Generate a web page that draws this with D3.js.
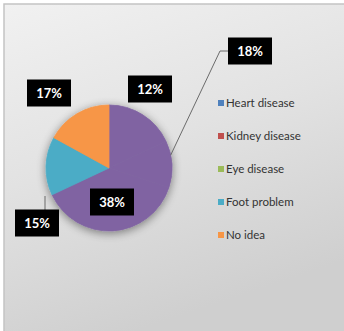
<!DOCTYPE html>
<html>
<head>
<meta charset="utf-8">
<script src="https://cdn.jsdelivr.net/npm/d3@7/dist/d3.min.js"></script>
<style>
  html, body { margin: 0; padding: 0; background: #ffffff; }
  svg { display: block; }
</style>
</head>
<body>
<svg id="chart" width="344" height="331"></svg>
<script>
// Survey answers: which complication of diabetes do you know about?
const categories = ["Heart disease", "Kidney disease", "Eye disease", "Foot problem", "No idea"];
const shares = [18, 12, 38, 15, 17];
const legendColors = ["#4F81BD", "#C0504D", "#9BBB59", "#4BACC6", "#F79646"];
const sliceColors = ["#8064A2", "#8064A2", "#8064A2", "#4BACC6", "#F79646"];
const valueLabels = ["18%", "12%", "38%", "15%", "17%"];

const svg = d3.select("#chart");
const W = 344, H = 331;

const defs = svg.append("defs");
const bg = defs.append("linearGradient").attr("id", "bg")
  .attr("x1", "0").attr("y1", "0").attr("x2", "0.35").attr("y2", "1");
bg.append("stop").attr("offset", "0").attr("stop-color", "#f1f1f1");
bg.append("stop").attr("offset", "0.5").attr("stop-color", "#e2e2e2");
bg.append("stop").attr("offset", "1").attr("stop-color", "#cfcfcf");

const shadow = defs.append("filter").attr("id", "shadow")
  .attr("x", "-30%").attr("y", "-30%").attr("width", "160%").attr("height", "160%");
shadow.append("feGaussianBlur").attr("in", "SourceAlpha").attr("stdDeviation", 5).attr("result", "b");
shadow.append("feOffset").attr("in", "b").attr("dx", 0).attr("dy", 2).attr("result", "o");
shadow.append("feComponentTransfer").attr("in", "o").attr("result", "s")
  .append("feFuncA").attr("type", "linear").attr("slope", 0.45);
const merge = shadow.append("feMerge");
merge.append("feMergeNode").attr("in", "s");
merge.append("feMergeNode").attr("in", "SourceGraphic");

// chart area
svg.append("rect").attr("x", 4).attr("y", 4).attr("width", W).attr("height", H)
  .attr("fill", "url(#bg)").attr("stroke", "#c4c4c4").attr("stroke-width", 1.5);

// pie
const cx = 109, cy = 168, r = 63;
const pie = d3.pie().sort(null).value(d => d)(shares);
const arc = d3.arc().innerRadius(0).outerRadius(r);

const g = svg.append("g").attr("transform", `translate(${cx},${cy})`);
g.append("g").attr("filter", "url(#shadow)")
  .selectAll("path").data(pie).join("path")
  .attr("d", arc)
  .attr("fill", (d, i) => sliceColors[i])
  .attr("stroke", (d, i) => sliceColors[i])
  .attr("stroke-width", 0.8)
  .attr("stroke-linejoin", "round");

// leader lines
const line = d3.line();
const angle0 = (pie[0].startAngle + pie[0].endAngle) / 2 + 0.8;
const edge0 = [cx + Math.sin(angle0) * r, cy - Math.cos(angle0) * r];
svg.append("path")
  .attr("d", line([edge0, [220, 51], [229, 51]]))
  .attr("fill", "none").attr("stroke", "#6b6b6b").attr("stroke-width", 1);

svg.append("path")
  .attr("d", line([[45, 196], [45, 210]]))
  .attr("fill", "none").attr("stroke", "#6b6b6b").attr("stroke-width", 1);

// value labels in black boxes
const labelPos = [[250, 51], [150, 89], [112, 202], [37, 223], [49, 93]];
const boxW = 44, boxH = 27;
const lg = svg.append("g");
labelPos.forEach((p, i) => {
  lg.append("rect").attr("x", p[0] - boxW / 2).attr("y", p[1] - boxH / 2)
    .attr("width", boxW).attr("height", boxH).attr("fill", "#000");
  lg.append("text").attr("x", p[0]).attr("y", p[1] + 4.5)
    .attr("text-anchor", "middle")
    .attr("font-family", "Lato, 'Liberation Sans', sans-serif")
    .attr("font-size", 13).attr("font-weight", "bold")
    .attr("fill", "#ffffff")
    .text(valueLabels[i]);
});

// legend
const legend = svg.append("g").attr("transform", "translate(218,103)");
const row = legend.selectAll("g").data(categories).join("g")
  .attr("transform", (d, i) => `translate(0,${i * 33})`);
row.append("rect").attr("x", 0).attr("y", -3).attr("width", 6).attr("height", 6)
  .attr("fill", (d, i) => legendColors[i]);
row.append("text").attr("x", 8).attr("y", 4)
  .attr("font-family", "Lato, 'Liberation Sans', sans-serif")
  .attr("font-size", 11.5).attr("fill", "#333333")
  .text(d => d);
</script>
</body>
</html>
